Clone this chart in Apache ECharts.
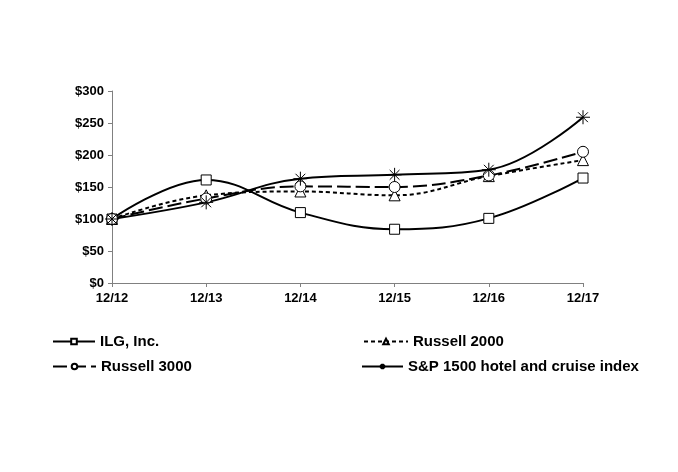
<!DOCTYPE html>
<html>
<head>
<meta charset="utf-8">
<script src="https://cdn.jsdelivr.net/npm/echarts@6/dist/echarts.min.js"></script>
<style>
  html, body { margin: 0; padding: 0; background: #fff; }
  #main { width: 678px; height: 472px; }
</style>
</head>
<body>
<div id="main"></div>
<script>
// data
const years = ["12/12", "12/13", "12/14", "12/15", "12/16", "12/17"];
const ilg = [100, 161, 110, 84, 101, 164];
const russell2000 = [100, 137, 143, 137, 167, 192];
const russell3000 = [100, 132, 151, 150, 168, 205];
const sp1500 = [100, 126, 163, 169, 177, 259];
const yTicks = [0, 50, 100, 150, 200, 250, 300];

const star = "path://M0,5L10,5M5,0L5,10M1.5,1.5L8.5,8.5M8.5,1.5L1.5,8.5";
const font = "'Liberation Sans', Arial, sans-serif";

function line(name, data, symbol, size, dash) {
  return {
    name: name,
    type: "line",
    smooth: 0.4,
    data: data,
    symbol: symbol,
    symbolSize: size,
    showAllSymbol: true,
    lineStyle: { color: "#000", width: 2, type: dash },
    itemStyle: { color: "#fff", borderColor: "#000", borderWidth: 1 },
    emphasis: { disabled: true },
    z: 2
  };
}

function leg(name, left, top, w) {
  return {
    left: left, top: top,
    itemWidth: w, itemHeight: 7,
    textStyle: { color: "#000", fontWeight: "bold", fontSize: 15, fontFamily: font },
    data: [name]
  };
}

var myChart = echarts.init(document.getElementById("main"));
var option = {
  animation: false,
  backgroundColor: "#fff",
  textStyle: { fontFamily: font },
  grid: { left: 112, right: 95, top: 91, bottom: 189, containLabel: false },
  xAxis: {
    type: "category",
    boundaryGap: false,
    data: years,
    axisLine: { lineStyle: { color: "#808080", width: 1 } },
    axisTick: { alignWithLabel: true, length: 4, lineStyle: { color: "#808080" } },
    axisLabel: { color: "#000", fontWeight: "bold", fontSize: 13, margin: 9, fontFamily: font }
  },
  yAxis: {
    type: "value",
    min: yTicks[0],
    max: yTicks[yTicks.length - 1],
    interval: 50,
    axisLine: { show: true, lineStyle: { color: "#808080", width: 1 } },
    axisTick: { show: true, length: 4, lineStyle: { color: "#808080" } },
    splitLine: { show: false },
    axisLabel: {
      color: "#000", fontWeight: "bold", fontSize: 13, margin: 8, fontFamily: font,
      formatter: function (v) { return "$" + v; }
    }
  },
  legend: [
    leg("ILG, Inc.", 47, 329, 42),
    leg("Russell 3000", 47, 354, 43),
    leg("Russell 2000", 358, 329, 44),
    leg("S&P 1500 hotel and cruise index", 356, 354, 41)
  ],
  series: [
    line("ILG, Inc.", ilg, "rect", 10, "solid"),
    line("Russell 2000", russell2000, "triangle", 11, [4, 3]),
    line("Russell 3000", russell3000, "circle", 11, [14, 5]),
    line("S&P 1500 hotel and cruise index", sp1500, star, 14, "solid")
  ]
};
myChart.setOption(option);
</script>
</body>
</html>
